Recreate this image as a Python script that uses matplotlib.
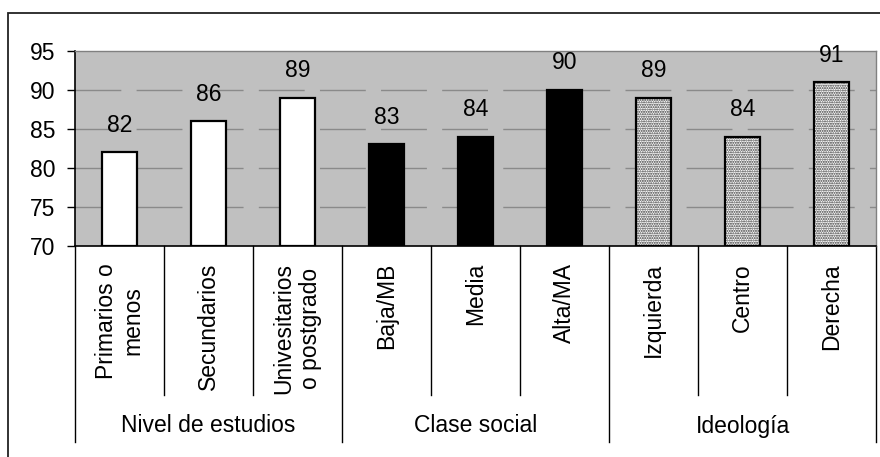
import matplotlib
matplotlib.use("Agg")
import matplotlib.pyplot as plt
from matplotlib.patches import Rectangle
import numpy as np

plt.rcParams['font.family'] = ['Liberation Sans', 'DejaVu Sans']

# ---- data ----
categories = ["Primarios o\nmenos", "Secundarios", "Univesitarios\no postgrado",
              "Baja/MB", "Media", "Alta/MA",
              "Izquierda", "Centro", "Derecha"]
values = [82, 86, 89, 83, 84, 90, 89, 84, 91]
groups = ["Nivel de estudios", "Clase social", "Ideología"]
group_sizes = [3, 3, 3]
yticks = [70, 75, 80, 85, 90, 95]

FS = 16.5

W, H = 880, 457
fig = plt.figure(figsize=(W / 100, H / 100), dpi=100)

# outer frame
fig.add_artist(Rectangle((8 / W, -0.1), 1.2, 1 - 13 / H + 0.1,
                         transform=fig.transFigure, fill=False,
                         edgecolor='#222222', linewidth=1.3))

left, right, top, bottom = 75, 876, 50.7, 246
ax = fig.add_axes([left / W, 1 - bottom / H, (right - left) / W, (bottom - top) / H])
ax.set_facecolor('#C0C0C0')

x = np.arange(len(categories))
ax.set_xlim(-0.5, len(categories) - 0.5)
ax.set_ylim(yticks[0], yticks[-1])

# gridlines
for yv in yticks[1:-1]:
    ax.axhline(yv, color='#8a8a8a', linewidth=1.0, dashes=(33, 11), zorder=1)

width = 0.39
styles = ['white', 'black', 'dots']
start = 0
for gi, size in enumerate(group_sizes):
    idx = x[start:start + size]
    vals = values[start:start + size]
    bottoms = [yticks[0]] * size
    heights = [v - yticks[0] for v in vals]
    st = styles[gi]
    if st == 'dots':
        ax.bar(idx, heights, width, bottom=bottoms, facecolor='white',
               edgecolor='#333333', hatch='.......', linewidth=0, zorder=2)
        ax.bar(idx, heights, width, bottom=bottoms, fill=False,
               edgecolor='black', linewidth=1.6, zorder=3)
    else:
        ax.bar(idx, heights, width, bottom=bottoms, facecolor=st,
               edgecolor='black', linewidth=1.6, zorder=3)
    start += size

for xi, v in zip(x, values):
    ax.annotate(str(v), (xi, v), xytext=(0, 11), textcoords='offset points',
                ha='center', va='bottom', fontsize=FS, zorder=4,
                annotation_clip=False)

ax.set_yticks(yticks)
ax.set_yticklabels([str(t) for t in yticks], fontsize=FS)
ax.tick_params(axis='y', length=6, width=1, pad=8, direction='out')
ax.set_xticks([])

for s in ['top', 'right']:
    ax.spines[s].set_color('#808080')
    ax.spines[s].set_linewidth(1.0)
for s in ['left', 'bottom']:
    ax.spines[s].set_color('black')
    ax.spines[s].set_linewidth(1.2)

# category axis structure below plot
trans = ax.get_xaxis_transform()
ph = bottom - top
y_inner = -(395 - bottom) / ph
y_outer = -(442 - bottom) / ph
y_lab = -(263 - bottom) / ph
y_grp = -(426 - bottom) / ph

boundaries = np.arange(len(categories) + 1) - 0.5
group_edges = np.concatenate([[0], np.cumsum(group_sizes)])
for k, b in enumerate(boundaries):
    yend = y_outer if k in group_edges else y_inner
    ax.plot([b, b], [0, yend], color='black', linewidth=1.0,
            transform=trans, clip_on=False)

for xi, lab in zip(x, categories):
    ax.text(xi, y_lab, lab, rotation=90, ha='center', va='top',
            multialignment='center', fontsize=FS, linespacing=1.2,
            transform=trans)

for gi, g in enumerate(groups):
    cx = (group_edges[gi] + group_edges[gi + 1]) / 2 - 0.5
    ax.text(cx, y_grp, g, ha='center', va='center', fontsize=FS,
            transform=trans)

fig.savefig("out.png", dpi=100)
